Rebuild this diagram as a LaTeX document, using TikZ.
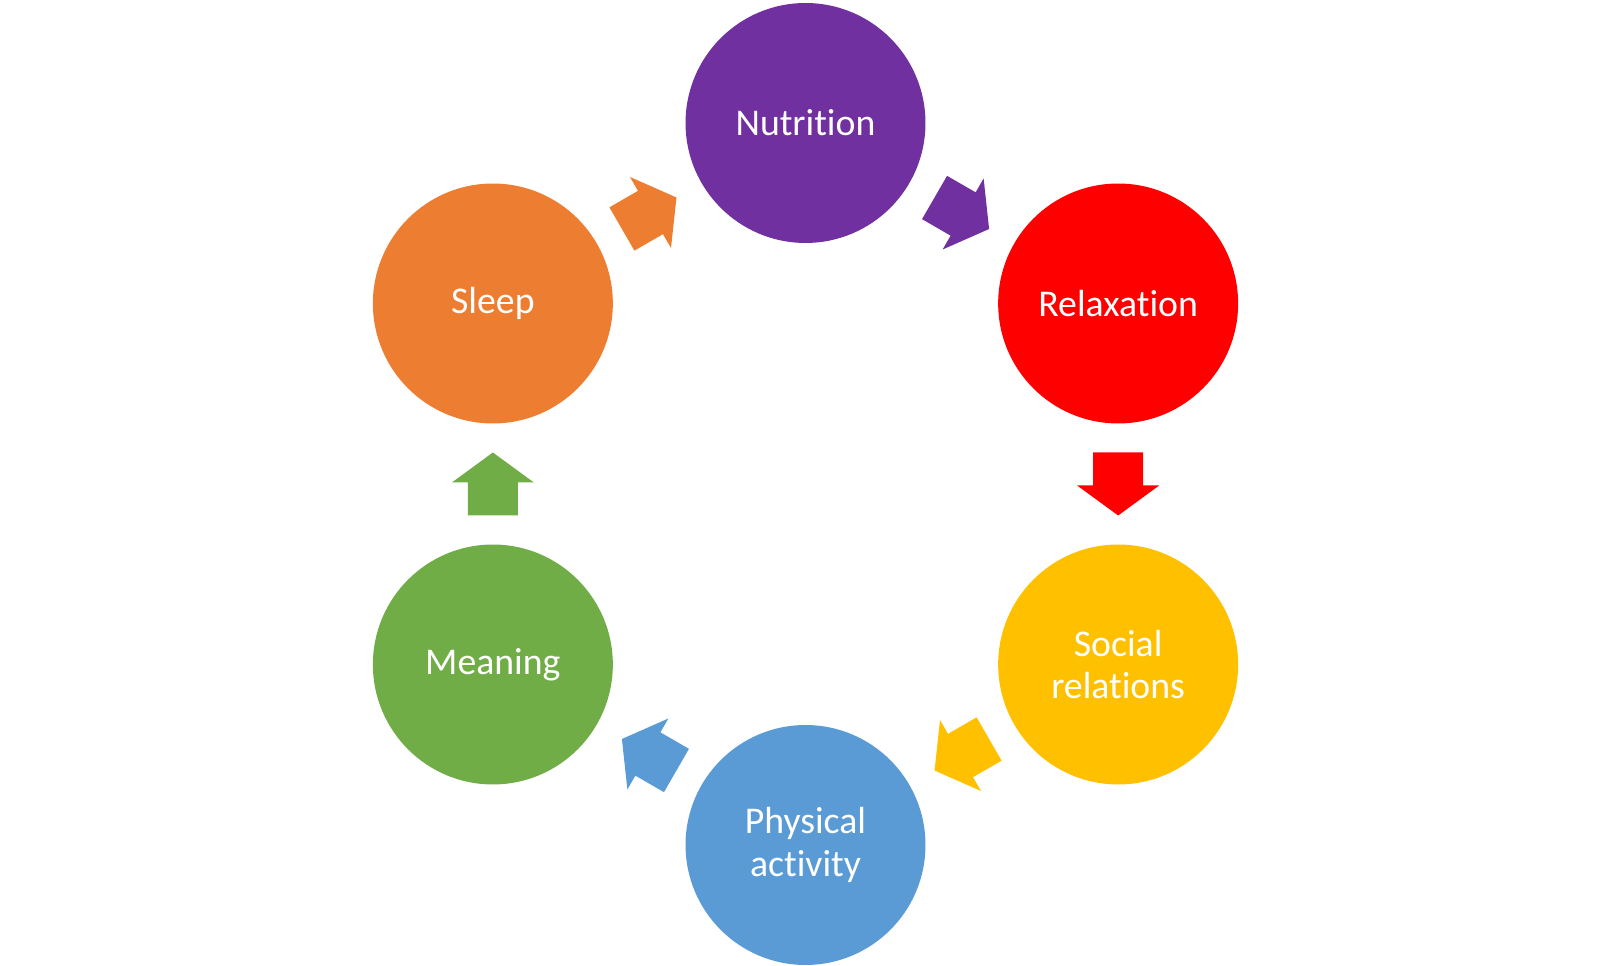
\documentclass[tikz,border=0pt]{standalone}
\usepackage{fontspec}
\setmainfont[RawFeature={-liga;-clig;-dlig;-calt}]{Carlito}
\usepackage{tikz}
\usetikzlibrary{calc}

\definecolor{nutcol}{HTML}{7030A0}
\definecolor{relcol}{HTML}{FF0000}
\definecolor{soccol}{HTML}{FFC000}
\definecolor{phycol}{HTML}{5B9BD5}
\definecolor{meacol}{HTML}{70AD47}
\definecolor{slecol}{HTML}{ED7D31}

\tikzset{
  habit/.style={circle, minimum size=4.8cm, inner sep=0pt, text=white,
    align=center, font=\fontsize{21.5}{24}\selectfont},
  blockarrow/.pic={
    \fill[pic actions] (-31.5,-25) -- (1.5,-25) -- (1.5,-41) -- (31.5,0)
      -- (1.5,41) -- (1.5,25) -- (-31.5,25) -- cycle;
  }
}

\begin{document}
\begin{tikzpicture}[x=0.02cm, y=0.02cm]

  \useasboundingbox (0,0) rectangle (1608,966);
  \coordinate (mid) at (805.5,482);

  % Habits around the circle
  \node[habit, fill=nutcol] (nut) at ($(mid)+(90:361)$) {Nutrition};
  \node[habit, fill=relcol] (rel) at ($(mid)+(30:361)$) {Relaxation};
  \node[habit, fill=soccol] (soc) at ($(mid)+(-30:361)$) {Social\\relations};
  \node[habit, fill=phycol] (phy) at ($(mid)+(-90:361)$) {Physical\\activity};
  \node[habit, fill=meacol] (mea) at ($(mid)+(210:361)$) {Meaning};
  \node[habit, fill=slecol] (sle) at ($(mid)+(150:361)$) {Sleep};

  % Arrows
  \pic[fill=nutcol, rotate=-30] at ($(nut)!0.5!(rel)$) {blockarrow};
  \pic[fill=relcol, rotate=-90] at ($(rel)!0.5!(soc)$) {blockarrow};
  \pic[fill=soccol, rotate=-150] at ($(soc)!0.5!(phy)$) {blockarrow};
  \pic[fill=phycol, rotate=150] at ($(phy)!0.5!(mea)$) {blockarrow};
  \pic[fill=meacol, rotate=90] at ($(mea)!0.5!(sle)$) {blockarrow};
  \pic[fill=slecol, rotate=30] at ($(sle)!0.5!(nut)$) {blockarrow};

\end{tikzpicture}
\end{document}
